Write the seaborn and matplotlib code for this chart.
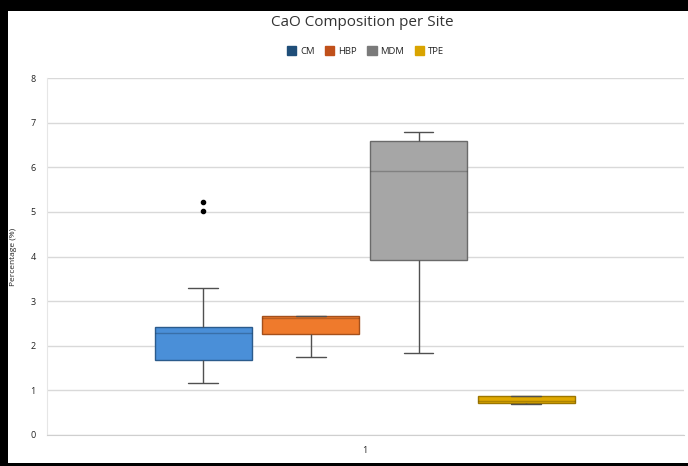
import numpy as np
import pandas as pd
import matplotlib
matplotlib.use("Agg")
import matplotlib.pyplot as plt
from matplotlib.patches import Rectangle
import seaborn as sns

sites = ["CM", "HBP", "MDM", "TPE"]
cm_values = [1.16, 1.40, 1.60, 1.68, 1.90, 2.10, 2.29, 2.35, 2.40, 2.43, 3.29, 5.02, 5.22]
hbp_values = [1.75, 2.26, 2.63, 2.66, 2.66]
mdm_values = [1.84, 3.92, 5.92, 6.59, 6.79]
tpe_values = [0.70, 0.71, 0.77, 0.87, 0.88]
group_label = "1"

fill_colors = ["#4a8fd8", "#ef7a2c", "#a6a6a6", "#dfa800"]
edge_colors = ["#2b5b8c", "#a4501c", "#6a6a6a", "#9c7600"]
legend_colors = ["#1f4e79", "#c0501a", "#7a7a7a", "#d9a400"]

rows = []
for s, vals in zip(sites, [cm_values, hbp_values, mdm_values, tpe_values]):
    for v in vals:
        rows.append({"group": group_label, "site": s, "value": v})
df = pd.DataFrame(rows)

sns.set_style("white")
plt.rcParams["font.family"] = ["Open Sans", "DejaVu Sans"]

fig = plt.figure(figsize=(6.88, 4.66), dpi=100)
fig.patch.set_facecolor("black")
fig.add_artist(Rectangle((8 / 688, 3 / 466), 1 - 8 / 688, 1 - 3 / 466 - 11 / 466,
                         transform=fig.transFigure, facecolor="white", edgecolor="none", zorder=-10))

ax = fig.add_axes([47 / 688, 31 / 466, (684 - 47) / 688, (435 - 78) / 466])
ax.set_facecolor("white")

sns.boxplot(data=df, x="group", y="value", hue="site", hue_order=sites,
            palette=fill_colors, saturation=1, width=0.8, gap=0.1, linewidth=1.0, fliersize=3,
            whis=1.5, ax=ax, capwidths=0.055,
            flierprops=dict(marker="o", markerfacecolor="black", markeredgecolor="black", markersize=3),
            whiskerprops=dict(color="#505050", linewidth=1.0),
            capprops=dict(color="#505050", linewidth=1.0),
            medianprops=dict(color=(0, 0, 0, 0.22), linewidth=1.0))

for patch, ec in zip(ax.patches, edge_colors):
    patch.set_edgecolor(ec)

ax.set_ylim(0, 8)
ax.set_xlim(-0.59, 0.593)
ax.set_yticks(range(0, 9))
ax.yaxis.grid(True, color="#d9d9d9", linewidth=1.0)
ax.set_axisbelow(True)
for sp in ["top", "right"]:
    ax.spines[sp].set_visible(False)
ax.spines["left"].set_color("#e6e6e6")
ax.spines["bottom"].set_color("#cfcfcf")
ax.tick_params(axis="both", labelsize=6.5, length=0, pad=8, colors="#222222")
ax.set_xlabel("")
ax.set_ylabel("Percentage (%)", fontsize=6, color="#222222", labelpad=10)

sns.move_legend(ax, "center", bbox_to_anchor=(0.5, 1.0 + 27 / 357), ncol=4, frameon=False,
                title=None, fontsize=6.8, handlelength=1.0, handleheight=1.0,
                columnspacing=1.1, handletextpad=0.4)
leg = ax.get_legend()
for h, c in zip(leg.legend_handles, legend_colors):
    h.set_facecolor(c)
    h.set_edgecolor(c)

fig.text(362 / 688, 1 - 22 / 466, "CaO Composition per Site", ha="center", va="center",
         fontsize=11, color="#333333")

fig.savefig("out.png", dpi=100, facecolor=fig.get_facecolor())
